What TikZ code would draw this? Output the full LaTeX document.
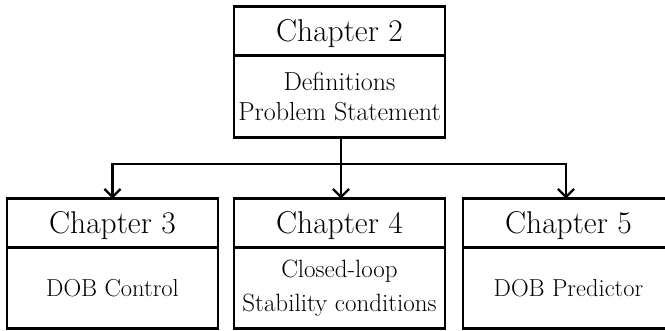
\documentclass[tikz,border=0pt]{standalone}
\usetikzlibrary{arrows.meta}
\begin{document}
\begin{tikzpicture}[x=1pt,y=-1pt,
  box/.style={draw, line width=2.2pt, inner sep=0pt, outer sep=0pt, minimum width=211pt, align=center},
  head/.style={box, minimum height=49pt, text height=24pt, text depth=4pt, font=\fontsize{31.5}{34}\selectfont},
  body/.style={box, minimum height=81pt, font=\fontsize{24.5}{30}\selectfont},
  twoline/.style={font=\fontsize{26}{30}\selectfont},
  conn/.style={line width=2.2pt, -{Straight Barb[length=8pt,width=16pt,line width=2.2pt]}}
]
\useasboundingbox (0,0) rectangle (665,330);
% top box
\node[head] (t2h) at (339.5,31) {Chapter 2};
\node[body, twoline, anchor=north, minimum height=82pt] (t2b) at (t2h.south) {Definitions\\Problem Statement};
% bottom boxes
\node[head] (t3h) at (112.5,223) {Chapter 3};
\node[body, anchor=north] (t3b) at (t3h.south) {DOB Control};
\node[head] (t4h) at (339.5,223) {Chapter 4};
\node[body, anchor=north, font=\fontsize{25}{34}\selectfont] (t4b) at (t4h.south) {Closed-loop\\Stability conditions};
\node[head] (t5h) at (568.5,223) {Chapter 5};
\node[body, anchor=north] (t5b) at (t5h.south) {DOB Predictor};
% connectors
\coordinate (split) at (341,164);
\draw[line width=2.2pt] (t2b.south -| split) -- (split);
\draw[conn] (split) -- (split |- t4h.north);
\draw[conn] (split) -| (t3h.north);
\draw[conn] (split) -| ([xshift=-2.5pt]t5h.north);
\end{tikzpicture}
\end{document}
